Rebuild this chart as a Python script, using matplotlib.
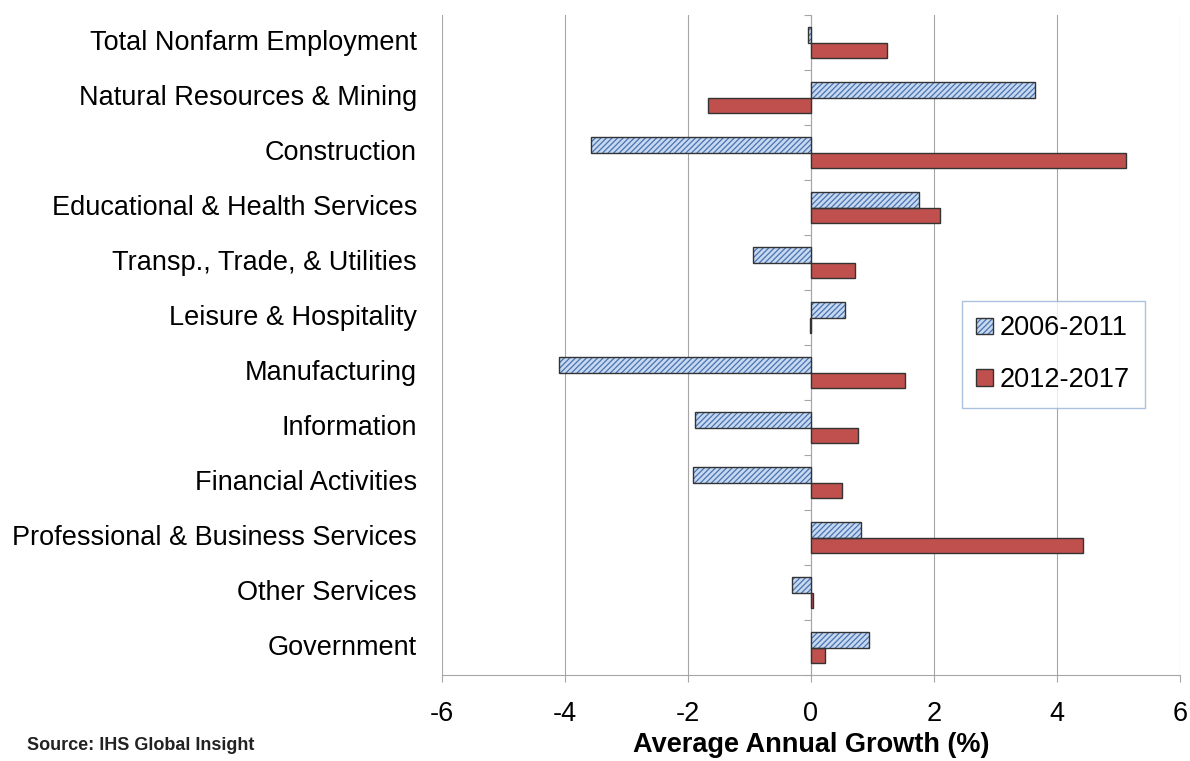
import numpy as np
import matplotlib
matplotlib.use("Agg")
import matplotlib.pyplot as plt
import matplotlib.patches as mpatches
from matplotlib.legend_handler import HandlerTuple
from matplotlib import markers

plt.rcParams["font.family"] = ["Liberation Sans", "DejaVu Sans"]
plt.rcParams["hatch.linewidth"] = 0.9

categories = [
    "Total Nonfarm Employment",
    "Natural Resources & Mining",
    "Construction",
    "Educational & Health Services",
    "Transp., Trade, & Utilities",
    "Leisure & Hospitality",
    "Manufacturing",
    "Information",
    "Financial Activities",
    "Professional & Business Services",
    "Other Services",
    "Government",
]
growth_2006_2011 = [-0.05, 3.65, -3.57, 1.75, -0.94, 0.55, -4.09, -1.88, -1.92, 0.81, -0.31, 0.95]
growth_2012_2017 = [1.24, -1.67, 5.12, 2.10, 0.72, -0.02, 1.53, 0.76, 0.50, 4.42, 0.03, 0.23]
series_labels = ["2006-2011", "2012-2017"]
xticks = [-6, -4, -2, 0, 2, 4, 6]

blue_face = "#C6D9F1"
blue_hatch = "#4A72B0"
red_face = "#C0504D"
edge = "#333333"
grid_col = "#A6A6A6"

fig = plt.figure(figsize=(11.9, 7.61), dpi=100)
ax = fig.add_axes([0.3714, 0.113, 0.6202, 0.867])

y = np.arange(len(categories))
h = 0.28

# blue hatched bars: hatch layer then outline
ax.barh(y - h / 2, growth_2006_2011, height=h, color=blue_face,
        edgecolor=blue_hatch, hatch="//////", linewidth=0, zorder=3)
ax.barh(y - h / 2, growth_2006_2011, height=h, facecolor="none",
        edgecolor=edge, linewidth=1.0, zorder=4)
ax.barh(y + h / 2, growth_2012_2017, height=h, color=red_face,
        edgecolor=edge, linewidth=1.0, zorder=3)

ax.set_xlim(-6, 6)
ax.set_ylim(len(categories) - 0.5, -0.5)
ax.set_xticks(xticks)
ax.set_xticklabels([str(t) for t in xticks], fontsize=19.5)
ax.set_yticks(y)
ax.set_yticklabels(categories, fontsize=19.5, va="center")
ax.tick_params(axis="y", length=0, pad=18)
ax.tick_params(axis="x", length=5, width=0.8, color=grid_col, pad=14)

ax.grid(axis="x", color=grid_col, linewidth=0.8, zorder=0)
ax.set_axisbelow(True)
for s in ["top", "right", "left"]:
    ax.spines[s].set_visible(False)
ax.spines["bottom"].set_color(grid_col)
ax.spines["bottom"].set_linewidth(0.8)

# category axis crossing at zero with boundary ticks
ax.axvline(0, color=grid_col, linewidth=0.8, zorder=1)
bounds = np.arange(len(categories) + 1) - 0.5
ax.plot(np.zeros(len(bounds)), bounds, linestyle="none",
        marker=markers.TICKLEFT, markersize=5, markeredgewidth=0.8,
        color=grid_col, clip_on=False, zorder=2)

ax.set_xlabel("Average Annual Growth (%)", fontsize=19.5, fontweight="bold", labelpad=3)

h_blue = (mpatches.Patch(facecolor=blue_face, edgecolor=blue_hatch, hatch="//////", linewidth=0),
          mpatches.Patch(facecolor="none", edgecolor=edge, linewidth=1.0))
h_red = mpatches.Patch(facecolor=red_face, edgecolor=edge, linewidth=1.0)
leg = ax.legend([h_blue, h_red], series_labels,
                handler_map={tuple: HandlerTuple(ndivide=1)},
                loc="center", bbox_to_anchor=(0.828, 0.486),
                fontsize=19.5, frameon=True, fancybox=False,
                handlelength=0.6, handleheight=0.55, handletextpad=0.25,
                labelspacing=0.95, borderpad=0.55, borderaxespad=0)
leg.get_frame().set_edgecolor("#95B3D7")
leg.get_frame().set_linewidth(1.0)

fig.text(27 / 1190, 1 - 746 / 761, "Source: IHS Global Insight",
         fontsize=13, fontweight="bold", va="center", ha="left", color="#222222")

fig.savefig("out.png", dpi=100)
